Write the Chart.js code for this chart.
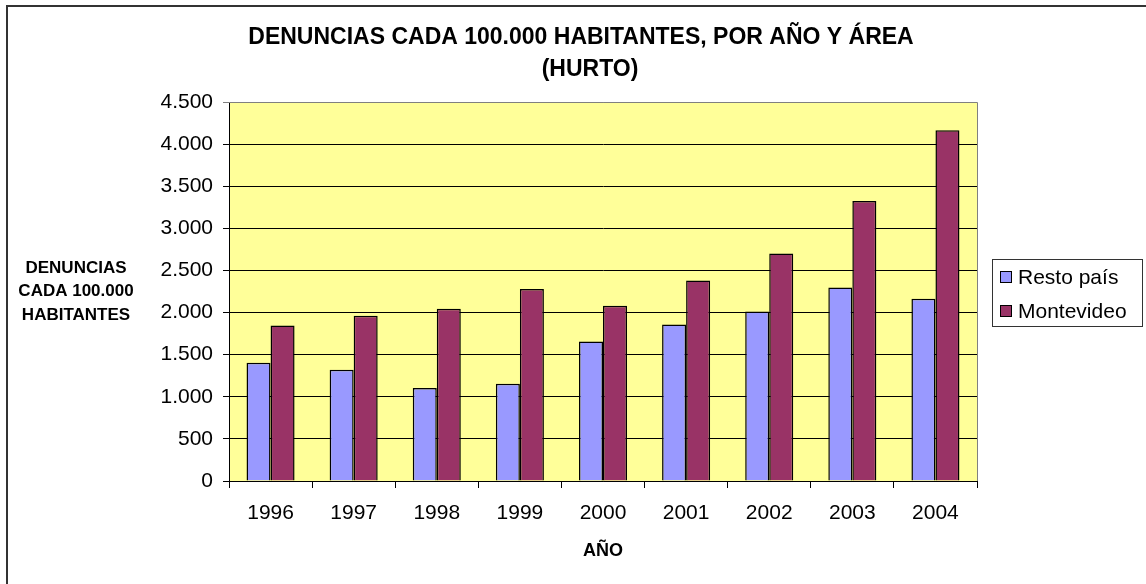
<!DOCTYPE html>
<html>
<head>
<meta charset="utf-8">
<title>Denuncias cada 100.000 habitantes (hurto)</title>
<script src="https://cdn.jsdelivr.net/npm/chart.js@4"></script>
<style>
  body { margin: 0; background: #fff; }
  #grafico { display: block; }
</style>
</head>
<body>
<canvas id="grafico" width="1146" height="584"></canvas>
<script>
// Datos
var anios = ['1996', '1997', '1998', '1999', '2000', '2001', '2002', '2003', '2004'];
var restoPais = [1403, 1320, 1103, 1154, 1656, 1858, 2012, 2297, 2163];
var montevideo = [1846, 1961, 2044, 2281, 2080, 2380, 2700, 3325, 4164];
var etiquetasY = ['0', '500', '1.000', '1.500', '2.000', '2.500', '3.000', '3.500', '4.000', '4.500'];

var tituloLineas = ['DENUNCIAS CADA 100.000 HABITANTES, POR AÑO Y ÁREA', '(HURTO)'];
var tituloEjeY = ['DENUNCIAS', 'CADA 100.000', 'HABITANTES'];
var tituloEjeX = 'AÑO';

const fuente = '"Liberation Sans", Arial, sans-serif';

// Fondo, marco y títulos
const pluginFondo = {
    id: 'fondo',
    beforeDraw(chart) {
        const ctx = chart.ctx;
        const a = chart.chartArea;
        ctx.save();
        ctx.fillStyle = '#ffffff';
        ctx.fillRect(0, 0, chart.width, chart.height);
        ctx.fillStyle = '#ffff99';
        ctx.fillRect(a.left, a.top, a.right - a.left, a.bottom - a.top);

        // marco exterior (recortado a la derecha y abajo)
        ctx.strokeStyle = '#333333';
        ctx.lineWidth = 2;
        ctx.beginPath();
        ctx.moveTo(7, chart.height);
        ctx.lineTo(7, 6);
        ctx.lineTo(chart.width, 6);
        ctx.stroke();
        ctx.restore();
    },
    beforeDatasetsDraw(chart) {
        const ctx = chart.ctx;
        const a = chart.chartArea;
        ctx.save();
        ctx.strokeStyle = '#808080';
        ctx.lineWidth = 1;
        ctx.beginPath();
        ctx.moveTo(a.left, a.top + 0.5);
        ctx.lineTo(a.right + 0.5, a.top + 0.5);
        ctx.lineTo(a.right + 0.5, a.bottom);
        ctx.stroke();
        ctx.restore();
    },
    afterDraw(chart) {
        const ctx = chart.ctx;
        const a = chart.chartArea;
        ctx.save();
        ctx.fillStyle = '#000000';
        ctx.textAlign = 'center';
        ctx.textBaseline = 'middle';

        // título principal
        ctx.font = 'bold 23px ' + fuente;
        ctx.fillText(tituloLineas[0], 581, 38);
        ctx.fillText(tituloLineas[1], 590, 70);

        // título eje Y
        ctx.font = 'bold 17px ' + fuente;
        tituloEjeY.forEach(function (linea, i) {
            ctx.fillText(linea, 76, 268 + i * 23.5);
        });

        // título eje X
        ctx.font = 'bold 18px ' + fuente;
        ctx.fillText(tituloEjeX, (a.left + a.right) / 2, 551);

        // leyenda
        const lx = 992, ly = 259, lw = 150, lh = 67;
        ctx.fillStyle = '#ffffff';
        ctx.fillRect(lx, ly, lw, lh);
        ctx.strokeStyle = '#333333';
        ctx.lineWidth = 1;
        ctx.strokeRect(lx + 0.5, ly + 0.5, lw, lh);
        ctx.font = '21px ' + fuente;
        ctx.textAlign = 'left';
        chart.data.datasets.forEach(function (ds, i) {
            const cy = ly + 18 + i * 34;
            ctx.fillStyle = ds.backgroundColor;
            ctx.fillRect(lx + 8, cy - 6, 12, 12);
            ctx.strokeStyle = '#000000';
            ctx.strokeRect(lx + 8.5, cy - 5.5, 11, 11);
            ctx.fillStyle = '#000000';
            ctx.fillText(ds.label, lx + 26, cy + 1);
        });
        ctx.restore();
    }
};

const contexto = document.getElementById('grafico').getContext('2d');

new Chart(contexto, {
    type: 'bar',
    data: {
        labels: anios,
        datasets: [
            {
                label: 'Resto país',
                data: restoPais,
                backgroundColor: '#9999ff',
                borderColor: '#000000',
                borderWidth: 1.5
            },
            {
                label: 'Montevideo',
                data: montevideo,
                backgroundColor: '#993366',
                borderColor: '#000000',
                borderWidth: 1.5
            }
        ]
    },
    options: {
        responsive: false,
        animation: false,
        devicePixelRatio: 1,
        layout: {
            padding: { left: 0, top: 102, right: 169, bottom: 0 }
        },
        datasets: {
            bar: {
                categoryPercentage: 0.578,
                barPercentage: 1
            }
        },
        plugins: {
            legend: { display: false },
            title: { display: false },
            tooltip: { enabled: false }
        },
        scales: {
            x: {
                afterFit: function (scale) { scale.height = 103; },
                grid: {
                    offset: true,
                    drawOnChartArea: false,
                    drawTicks: true,
                    tickLength: 7,
                    color: '#000000'
                },
                border: { color: '#000000', width: 1 },
                ticks: {
                    color: '#000000',
                    padding: 13,
                    font: { family: fuente, size: 21 }
                }
            },
            y: {
                min: 0,
                max: 4500,
                afterFit: function (scale) { scale.width = 229; },
                grid: {
                    color: function (c) { return c.tick && c.tick.value === 4500 ? '#808080' : '#000000'; },
                    lineWidth: 1,
                    tickLength: 6
                },
                border: { color: '#000000', width: 1 },
                ticks: {
                    stepSize: 500,
                    color: '#000000',
                    padding: 10,
                    font: { family: fuente, size: 21 },
                    callback: function (valor, indice) { return etiquetasY[indice]; }
                }
            }
        }
    },
    plugins: [pluginFondo]
});
</script>
</body>
</html>
